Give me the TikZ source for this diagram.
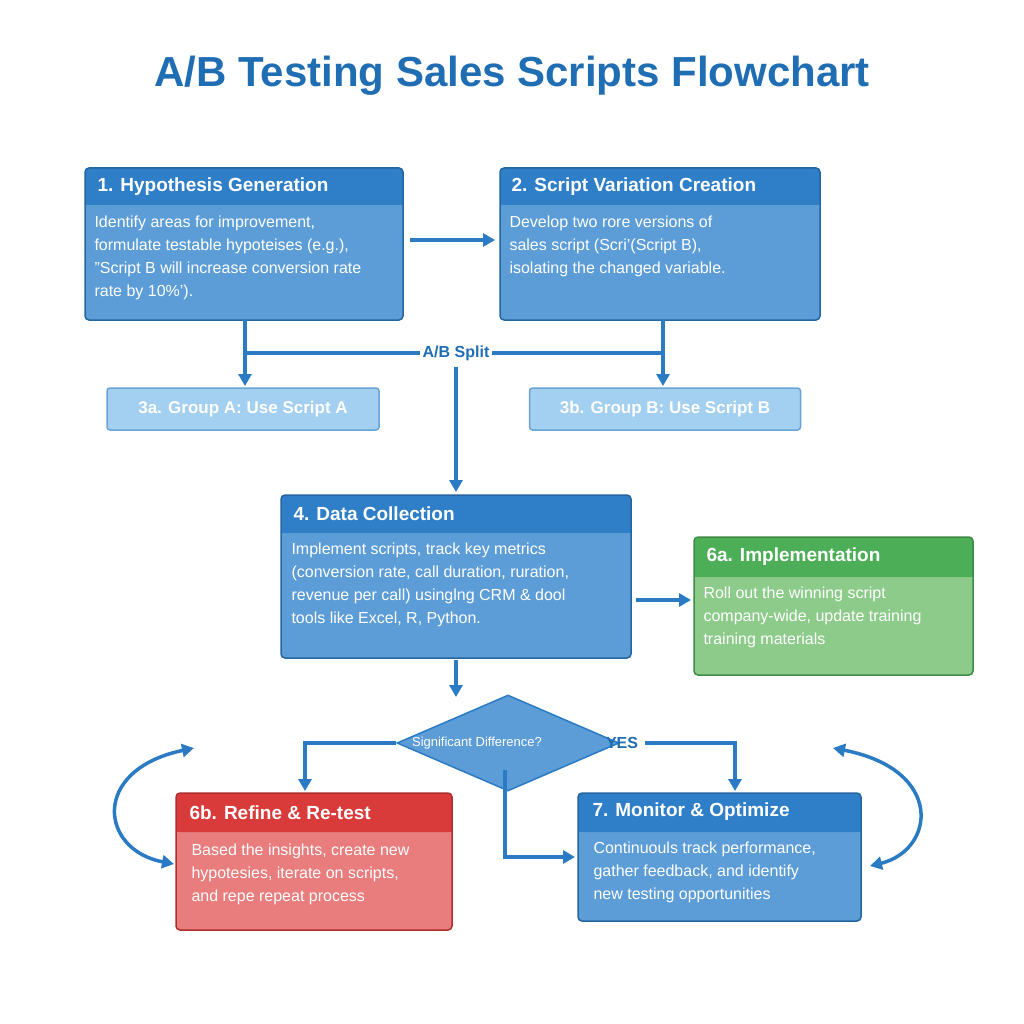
\documentclass[tikz,border=0pt]{standalone}
\usepackage{fontspec}
\setmainfont{Liberation Sans}
\usetikzlibrary{arrows.meta,shapes.geometric}
\definecolor{hblue}{HTML}{2F7EC8}
\definecolor{bblue}{HTML}{5C9DD8}
\definecolor{lblue}{HTML}{A3CFF0}
\definecolor{hgreen}{HTML}{4DAE58}
\definecolor{bgreen}{HTML}{8DCB8A}
\definecolor{hred}{HTML}{D93A3A}
\definecolor{bred}{HTML}{E97C7C}
\definecolor{tblue}{HTML}{1F6DB3}
\definecolor{lineb}{HTML}{2A7BC4}
\tikzset{x=1pt,y=-1pt,
 tip/.style={Triangle[length=12pt,width=13pt]},
 arr/.style={draw=lineb,line width=3.5pt,-{Triangle[length=12pt,width=13pt]}},
 ln/.style={draw=lineb,line width=3.5pt},
 head/.style={font=\bfseries\fontsize{19}{22}\selectfont,text=white,anchor=west},
 body/.style={font=\fontsize{16}{23}\selectfont,text=white,anchor=north west,align=left},
 small/.style={fill=lblue,draw=lineb!70,line width=1.5pt,rounded corners=3pt,font=\bfseries\fontsize{17}{20}\selectfont,text=white}}
\newcommand{\mybox}[8]{% name x1 y1 x2 y2 headbottom headcol bodycol
 \fill[#8,rounded corners=4pt] (#2,#3) rectangle (#4,#5);
 \fill[#7,rounded corners=4pt] (#2,#3) rectangle (#4,#6);
 \fill[#7] (#2,#6-5) rectangle (#4,#6);
 \draw[#7!80!black,line width=1.5pt,rounded corners=4pt] (#2,#3) rectangle (#4,#5);
 \coordinate (#1) at (#2,#3);}
\begin{document}
\begin{tikzpicture}
\useasboundingbox (0,0) rectangle (1024,1024);
\fill[white] (0,0) rectangle (1024,1024);
\node[font=\bfseries\fontsize{42}{46}\selectfont,text=tblue] (title) at (512,76) {A/B Testing Sales Scripts Flowchart};
% box 1
\mybox{b1}{85}{168}{403}{320}{205}{hblue}{bblue}
\node[head] (h1) at (94,187) {1. Hypothesis Generation};
\node[body] (t1) at (91,212) {Identify areas for improvement,\\formulate testable hypoteises (e.g.),\\"Script B will increase conversion rate\\rate by 10\%').};
% box 2
\mybox{b2}{500}{168}{820}{320}{205}{hblue}{bblue}
\node[head] (h2) at (508,187) {2. Script Variation Creation};
\node[body] (t2) at (506,212) {Develop two rore versions of\\sales script (Scri'(Script B),\\isolating the changed variable.};
% 3a 3b
\node[small,minimum width=272pt,minimum height=42pt] (g3a) at (243,409) {3a. Group A: Use Script A};
\node[small,minimum width=271pt,minimum height=42pt] (g3b) at (665,409) {3b. Group B: Use Script B};
% box 4
\mybox{b4}{281}{495}{631}{658}{533}{hblue}{bblue}
\node[head] (h4) at (290,514) {4. Data Collection};
\node[body] (t4) at (288,539) {Implement scripts, track key metrics\\(conversion rate, call duration, ruration,\\revenue per call) usinglng CRM \& dool\\tools like Excel, R, Python.};
% 6a
\mybox{b6a}{694}{537}{973}{675}{577}{hgreen}{bgreen}
\node[head] (h6a) at (703,557) {6a. Implementation};
\node[body] (t6a) at (700,583) {Roll out the winning script\\company-wide, update training\\training materials};
% diamond
\node[diamond,fill=bblue,draw=lineb,line width=1.5pt,minimum width=222pt,minimum height=96pt,inner sep=0pt,aspect=2.4] (d) at (508,743) {};
\node[font=\fontsize{13}{15}\selectfont,text=white] (dl) at (477,743) {Significant Difference?};
% 6b
\mybox{b6b}{176}{793}{452}{930}{832}{hred}{bred}
\node[head] (h6b) at (186,813) {6b. Refine \& Re-test};
\node[body] (t6b) at (188,840) {Based the insights, create new\\hypotesies, iterate on scripts,\\and repe repeat process};
% 7
\mybox{b7}{578}{793}{861}{921}{832}{hblue}{bblue}
\node[head] (h7) at (589,812) {7. Monitor \& Optimize};
\node[body] (t7) at (590,838) {Continuouls track performance,\\gather feedback, and identify\\new testing opportunities};
% connectors
\draw[arr] (410,240) -- (495,240);
\coordinate (sl) at (245,353); \coordinate (sr) at (663,353);
\draw[ln] (sl) -- (sr);
\node[fill=white,font=\bfseries\fontsize{16}{18}\selectfont,text=tblue,inner sep=3pt] (ab) at (456,353) {A/B Split};
\draw[arr] (245,320) -- (245,386);
\draw[arr] (663,320) -- (663,386);
\draw[arr] (456,367) -- (456,492);
\draw[arr] (636,600) -- (691,600);
\draw[arr] (456,660) -- (456,697);
\draw[arr] (d.west) -- (305,743) -- (305,791);
\node[font=\bfseries\fontsize{16}{18}\selectfont,text=tblue] (yes) at (622,743) {YES};
\draw[arr] (645,743) -- (735,743) -- (735,791);
\draw[arr] (505,770) -- (505,857) -- (575,857);
\draw[line width=3.5pt,draw=lineb,{Triangle[length=12pt,width=13pt]}-{Triangle[length=12pt,width=13pt]}] (194,748) .. controls (90,770) and (100,850) .. (174,864);
\draw[line width=3.5pt,draw=lineb,{Triangle[length=12pt,width=13pt]}-{Triangle[length=12pt,width=13pt]}] (833,748) .. controls (945,770) and (935,850) .. (870,866);
\end{tikzpicture}
\end{document}
